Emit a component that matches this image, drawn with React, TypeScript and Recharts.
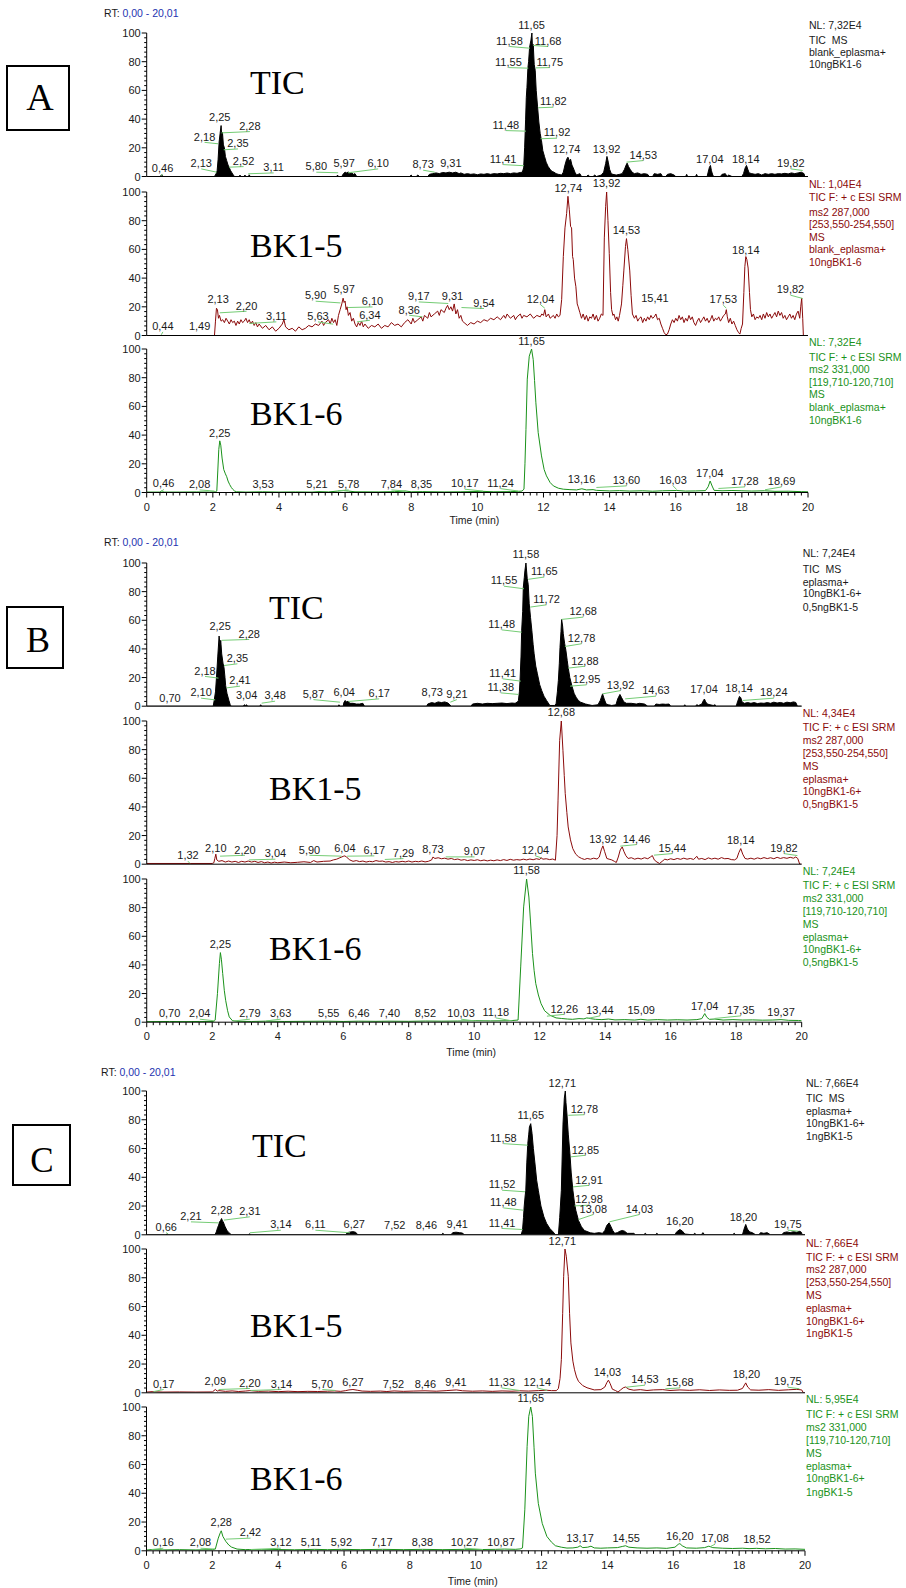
import { Area, ComposedChart, Line, ReferenceDot, ReferenceLine, XAxis, YAxis } from "recharts";

type Pt = [number, number];
// [text, labelX, labelBaselineY, peakX?, peakY?]
type Lbl = [string, number, number, number?, number?];

// ---------- A: blank_eplasma + 10ngBK1-6 ----------
const ticA: Pt[] = [
  [0, 0], [0.4, 0], [0.45, 1], [0.5, 0], [2.05, 0], [2.1, 2], [2.13, 4], [2.16, 12], [2.19, 24], [2.22, 30],
  [2.25, 35.5], [2.27, 28], [2.29, 31], [2.32, 22], [2.35, 20], [2.38, 14], [2.42, 11], [2.46, 8], [2.5, 6],
  [2.54, 4], [2.58, 2.5], [2.62, 1], [2.66, 0], [2.8, 0], [2.82, 1], [2.85, 0], [2.95, 0], [2.97, 1], [3.0, 0],
  [3.08, 0], [3.1, 1.2], [3.13, 0], [5.75, 0], [5.77, 1], [5.8, 0], [5.9, 0], [5.95, 2], [6.0, 3], [6.05, 2.5],
  [6.1, 3.2], [6.15, 2], [6.2, 2.5], [6.25, 1.5], [6.3, 2], [6.35, 0], [7.95, 0], [8.0, 1], [8.03, 0], [8.15, 0],
  [8.2, 1], [8.25, 0], [8.5, 0], [8.55, 1.5], [8.65, 2], [8.75, 2.5], [8.85, 2], [8.95, 2.8], [9.05, 2.5],
  [9.15, 3], [9.25, 2.5], [9.35, 3], [9.45, 2], [9.5, 2.5], [9.6, 1.5], [9.7, 2], [9.8, 1.5], [9.9, 1.8],
  [10.0, 1.2], [10.1, 1.8], [10.2, 1.5], [10.3, 2], [10.4, 1.5], [10.5, 2], [10.6, 1.8], [10.7, 2.2], [10.8, 2],
  [10.9, 2.4], [11.0, 2], [11.1, 2.5], [11.2, 2.2], [11.3, 2.8], [11.36, 3], [11.4, 6], [11.43, 20], [11.46, 40],
  [11.48, 55], [11.5, 62], [11.53, 76], [11.55, 80], [11.58, 90], [11.62, 95], [11.65, 100], [11.67, 88],
  [11.69, 92], [11.72, 78], [11.75, 74], [11.78, 60], [11.82, 49], [11.86, 38], [11.9, 30], [11.94, 25],
  [11.98, 18], [12.03, 14], [12.08, 10], [12.14, 7], [12.2, 5], [12.26, 3.5], [12.32, 3], [12.38, 2], [12.45, 1.5],
  [12.55, 1], [12.6, 3], [12.65, 8], [12.7, 12], [12.74, 13.5], [12.78, 11], [12.82, 12], [12.86, 8], [12.9, 6],
  [12.95, 3], [13.0, 1], [13.1, 2], [13.15, 0], [13.3, 0], [13.35, 1], [13.4, 0], [13.5, 0], [13.55, 1], [13.6, 0],
  [13.75, 1], [13.82, 3], [13.88, 9], [13.92, 14], [13.96, 10], [14.0, 5], [14.05, 2], [14.1, 1.5], [14.2, 1],
  [14.3, 1.5], [14.38, 2], [14.45, 5], [14.5, 8], [14.53, 9.3], [14.57, 7], [14.62, 5], [14.68, 3], [14.75, 2],
  [14.85, 2.5], [14.95, 1.5], [15.05, 2], [15.15, 1.5], [15.2, 0], [15.3, 0], [15.35, 2], [15.45, 1.5], [15.55, 2],
  [15.6, 0], [15.7, 0], [15.75, 1.5], [15.85, 2], [15.95, 1], [16.0, 0], [16.3, 0], [16.33, 1.5], [16.36, 0],
  [16.6, 0], [16.63, 1.5], [16.66, 0], [16.95, 0], [16.98, 3], [17.02, 6.5], [17.05, 7.7], [17.08, 4], [17.12, 1],
  [17.15, 0], [17.35, 0], [17.4, 1.5], [17.5, 2], [17.55, 0], [17.6, 1], [17.7, 0], [18.0, 0], [18.05, 2],
  [18.1, 6], [18.14, 7.7], [18.18, 5], [18.22, 2.5], [18.3, 2], [18.4, 1.5], [18.5, 2], [18.6, 1], [18.7, 2],
  [18.8, 1.5], [18.9, 2], [19.0, 1.5], [19.1, 2], [19.2, 1.8], [19.3, 2.2], [19.4, 1.8], [19.5, 2.5], [19.6, 2],
  [19.7, 2.5], [19.8, 3], [19.88, 2], [19.9, 0], [20, 0],
];

const bk5A: Pt[] = [
  [0, 0], [2.05, 0], [2.08, 10], [2.11, 19], [2.14, 18], [2.17, 12], [2.2, 14], [2.25, 10], [2.3, 11], [2.35, 9],
  [2.4, 12], [2.45, 10], [2.5, 8], [2.55, 11], [2.6, 9], [2.65, 10], [2.7, 7], [2.75, 10], [2.8, 8], [2.85, 11],
  [2.9, 9], [2.95, 10], [3.0, 12], [3.05, 9], [3.1, 11], [3.15, 8], [3.2, 10], [3.25, 7], [3.3, 9], [3.35, 6],
  [3.4, 8], [3.5, 5], [3.6, 7], [3.7, 4], [3.8, 6], [3.9, 3], [4.0, 5], [4.1, 8], [4.15, 11], [4.2, 6], [4.3, 4],
  [4.4, 5], [4.5, 3], [4.6, 6], [4.7, 4], [4.8, 5], [4.9, 7], [5.0, 6], [5.1, 8], [5.2, 7], [5.3, 10], [5.35, 7],
  [5.4, 9], [5.5, 11], [5.55, 8], [5.6, 12], [5.65, 9], [5.7, 11], [5.75, 7], [5.8, 14], [5.85, 18], [5.9, 22],
  [5.94, 26], [5.97, 23], [6.0, 24], [6.03, 18], [6.06, 20], [6.1, 14], [6.15, 16], [6.2, 10], [6.25, 12],
  [6.3, 8], [6.35, 6], [6.4, 9], [6.45, 7], [6.5, 10], [6.55, 6], [6.6, 8], [6.7, 5], [6.8, 7], [6.9, 6], [7.0, 8],
  [7.1, 5], [7.2, 7], [7.3, 6], [7.4, 9], [7.5, 7], [7.6, 8], [7.7, 6], [7.8, 9], [7.9, 11], [8.0, 8], [8.05, 12],
  [8.1, 9], [8.2, 11], [8.3, 13], [8.35, 10], [8.4, 14], [8.5, 12], [8.55, 16], [8.6, 13], [8.7, 15], [8.8, 17],
  [8.85, 14], [8.9, 18], [9.0, 16], [9.05, 19], [9.1, 21], [9.15, 18], [9.2, 20], [9.25, 17], [9.3, 22],
  [9.35, 15], [9.4, 18], [9.45, 12], [9.5, 14], [9.55, 10], [9.6, 9], [9.7, 7], [9.8, 9], [9.9, 8], [10.0, 10],
  [10.1, 9], [10.2, 11], [10.3, 10], [10.4, 12], [10.5, 11], [10.6, 13], [10.7, 11], [10.8, 14], [10.85, 12],
  [10.9, 15], [11.0, 12], [11.1, 14], [11.15, 11], [11.2, 13], [11.3, 15], [11.35, 12], [11.4, 14], [11.5, 13],
  [11.6, 15], [11.7, 12], [11.8, 14], [11.9, 13], [11.95, 15], [12.0, 14], [12.04, 18], [12.08, 13], [12.15, 15],
  [12.2, 12], [12.3, 14], [12.35, 12], [12.4, 15], [12.45, 13], [12.5, 14], [12.55, 25], [12.6, 55], [12.65, 75],
  [12.7, 85], [12.74, 97], [12.78, 88], [12.82, 76], [12.85, 75], [12.88, 55], [12.9, 53], [12.94, 40],
  [12.98, 34], [13.02, 22], [13.05, 20], [13.1, 16], [13.15, 12], [13.2, 15], [13.25, 11], [13.3, 14], [13.35, 10],
  [13.4, 13], [13.45, 12], [13.5, 15], [13.55, 11], [13.6, 14], [13.65, 10], [13.7, 12], [13.75, 15], [13.8, 14],
  [13.84, 68], [13.88, 90], [13.91, 100], [13.95, 80], [13.99, 57], [14.03, 30], [14.06, 18], [14.1, 14],
  [14.13, 15], [14.18, 11], [14.22, 13], [14.26, 10], [14.3, 14], [14.36, 22], [14.4, 35], [14.43, 45],
  [14.48, 62], [14.51, 67.5], [14.55, 60], [14.61, 45], [14.65, 28], [14.69, 15], [14.75, 12], [14.8, 14],
  [14.85, 10], [14.9, 12], [14.95, 13], [15.0, 9], [15.05, 12], [15.1, 10], [15.15, 13], [15.2, 11], [15.25, 14],
  [15.3, 12], [15.35, 13], [15.4, 15], [15.45, 11], [15.5, 12], [15.55, 8], [15.6, 5], [15.65, 2], [15.7, 0.5],
  [15.75, 1], [15.8, 4], [15.85, 8], [15.9, 11], [15.95, 9], [16.0, 12], [16.05, 10], [16.1, 14], [16.15, 11],
  [16.2, 13], [16.25, 9], [16.3, 12], [16.35, 10], [16.4, 14], [16.45, 11], [16.5, 13], [16.55, 9], [16.6, 7],
  [16.65, 10], [16.7, 12], [16.75, 9], [16.8, 11], [16.85, 13], [16.9, 10], [16.95, 12], [17.0, 9], [17.05, 11],
  [17.1, 14], [17.15, 10], [17.2, 12], [17.25, 11], [17.3, 13], [17.35, 10], [17.4, 12], [17.45, 14], [17.5, 15],
  [17.53, 18], [17.56, 13], [17.6, 9], [17.65, 12], [17.7, 8], [17.75, 10], [17.8, 7], [17.85, 4], [17.9, 2],
  [17.94, 1], [17.98, 5], [18.02, 8], [18.06, 30], [18.09, 48], [18.12, 55], [18.15, 53], [18.19, 47], [18.23, 30],
  [18.26, 18], [18.3, 13], [18.35, 15], [18.4, 11], [18.45, 13], [18.5, 12], [18.55, 14], [18.6, 11], [18.65, 15],
  [18.7, 12], [18.75, 16], [18.8, 13], [18.85, 15], [18.9, 12], [18.95, 14], [19.0, 16], [19.05, 13], [19.1, 17],
  [19.15, 14], [19.2, 16], [19.25, 12], [19.3, 14], [19.35, 11], [19.4, 13], [19.45, 15], [19.5, 12], [19.55, 14],
  [19.6, 11], [19.65, 15], [19.7, 17], [19.75, 12], [19.78, 20], [19.81, 26], [19.84, 12], [19.86, 0], [20, 0],
];

const bk6A: Pt[] = [
  [0, 0.3], [0.4, 0.3], [0.46, 1.2], [0.52, 0.3], [1.0, 0.3], [1.5, 0.4], [1.9, 0.3], [2.08, 0.5], [2.12, 1],
  [2.15, 15], [2.18, 30], [2.21, 36], [2.24, 33], [2.28, 24], [2.33, 16], [2.38, 13], [2.42, 11], [2.46, 8],
  [2.51, 5.5], [2.56, 3.5], [2.6, 2.3], [2.66, 1], [2.72, 0.5], [3.0, 0.3], [3.5, 0.5], [4.0, 0.3], [4.5, 0.4],
  [5.0, 0.3], [5.21, 0.6], [5.5, 0.4], [5.78, 1], [5.95, 1.3], [6.1, 1], [6.3, 0.5], [7.0, 0.4], [7.5, 0.6],
  [7.84, 1], [8.0, 0.5], [8.35, 0.6], [9.0, 0.4], [9.5, 0.5], [10.17, 0.8], [10.5, 0.5], [11.0, 0.6], [11.24, 0.8],
  [11.35, 1], [11.41, 2.3], [11.44, 20], [11.47, 44], [11.51, 79], [11.57, 95], [11.64, 100], [11.69, 92.6],
  [11.73, 78], [11.77, 62.5], [11.84, 41.7], [11.94, 25.5], [12.02, 16], [12.09, 11.6], [12.2, 7], [12.3, 4.6],
  [12.45, 3], [12.6, 2.3], [12.8, 2], [13.0, 1.8], [13.16, 2.6], [13.3, 1.8], [13.5, 2], [13.6, 1.5], [13.8, 1.3],
  [14.0, 1.1], [14.3, 1.3], [14.6, 1], [15.0, 1.2], [15.3, 0.9], [15.6, 1.2], [16.03, 1.4], [16.3, 1], [16.6, 1.1],
  [16.9, 1.3], [16.98, 4], [17.04, 8], [17.1, 4.5], [17.16, 1.5], [17.4, 1.2], [17.7, 1.4], [18.0, 1.2], [18.3, 1],
  [18.69, 1.2], [19.0, 0.8], [19.4, 0.9], [19.8, 0.6], [20, 0.5],
];

// ---------- B: eplasma + 10ngBK1-6 + 0,5ngBK1-5 ----------
const ticB: Pt[] = [
  [0, 0], [2.03, 0], [2.06, 4], [2.1, 10], [2.13, 20], [2.17, 35], [2.21, 49], [2.24, 42], [2.26, 46],
  [2.29, 36.5], [2.33, 30], [2.36, 27], [2.39, 20], [2.41, 14.4], [2.45, 9], [2.51, 4], [2.55, 1], [2.58, 0],
  [2.95, 0], [2.98, 1], [3.02, 0.5], [3.05, 1], [3.08, 0], [3.45, 0], [3.48, 1], [3.51, 0], [5.85, 0], [5.87, 1],
  [5.9, 0], [6.0, 0], [6.02, 2.5], [6.06, 4], [6.1, 3], [6.15, 3.5], [6.2, 2], [6.3, 2], [6.4, 1.5], [6.5, 1.5],
  [6.6, 2], [6.65, 0], [8.55, 0], [8.58, 1.5], [8.7, 2.5], [8.8, 2], [8.9, 3], [9.0, 2.5], [9.1, 3], [9.2, 2.2],
  [9.3, 0], [9.9, 0], [9.95, 1.5], [10.1, 2], [10.25, 1.5], [10.4, 2], [10.55, 1.8], [10.7, 2], [10.85, 2.2],
  [11.0, 1.8], [11.15, 2.2], [11.25, 2], [11.32, 3], [11.35, 4], [11.38, 10], [11.4, 18], [11.43, 35], [11.45, 53],
  [11.48, 66], [11.5, 83], [11.53, 90], [11.55, 95], [11.58, 100], [11.62, 89], [11.65, 85], [11.68, 71.6],
  [11.72, 62], [11.76, 53], [11.8, 43], [11.83, 36.6], [11.88, 28], [11.93, 22.6], [12.0, 15], [12.06, 11],
  [12.13, 7], [12.21, 4], [12.31, 0.5], [12.45, 0.5], [12.5, 1.6], [12.54, 10], [12.57, 18], [12.6, 30],
  [12.62, 41], [12.65, 52], [12.67, 60.6], [12.7, 56], [12.72, 50.6], [12.76, 44], [12.8, 39], [12.84, 32],
  [12.87, 27], [12.92, 20], [12.98, 14.5], [13.05, 9], [13.11, 6.3], [13.18, 4], [13.25, 2.8], [13.4, 1.5],
  [13.5, 1], [13.6, 0.5], [13.78, 1], [13.85, 4], [13.92, 8.6], [13.97, 5], [14.03, 1.5], [14.1, 1], [14.2, 0.5],
  [14.33, 1], [14.38, 5], [14.45, 8.2], [14.5, 6], [14.57, 3], [14.65, 2], [14.8, 2], [14.95, 1.5], [15.05, 2],
  [15.2, 1.5], [15.3, 0], [15.5, 0], [15.55, 1.5], [15.65, 1.2], [15.75, 1.5], [15.85, 1.3], [15.95, 1.5], [16.0, 0],
  [16.4, 0], [16.43, 1], [16.46, 0], [16.75, 0], [16.8, 1], [16.85, 0.5], [16.95, 1.5], [17.0, 4], [17.03, 5],
  [17.07, 3], [17.12, 1.5], [17.2, 1], [17.3, 0.5], [17.35, 1], [17.4, 0], [18.0, 0], [18.04, 3], [18.1, 6.8],
  [18.14, 6], [18.18, 3], [18.25, 2], [18.35, 2.5], [18.45, 2], [18.55, 2.5], [18.65, 1.8], [18.75, 2.2],
  [18.85, 2], [18.95, 2.5], [19.05, 2], [19.15, 2.8], [19.25, 2.2], [19.35, 2.6], [19.45, 2], [19.55, 2.8],
  [19.65, 2.4], [19.75, 3], [19.82, 2.6], [19.87, 0], [20, 0],
];

const bk5B: Pt[] = [
  [0, 0.5], [2.0, 0.5], [2.05, 1], [2.08, 4], [2.11, 7], [2.14, 3], [2.2, 2], [2.3, 2.5], [2.4, 1.5], [2.5, 2.2],
  [2.6, 1.5], [2.7, 2], [2.8, 1.2], [2.9, 2], [3.0, 1.5], [3.1, 2.2], [3.2, 1.5], [3.3, 2], [3.4, 1.2], [3.5, 1.8],
  [3.6, 1], [3.7, 1.5], [3.8, 0.8], [3.9, 1.4], [4.0, 1], [4.2, 1.5], [4.4, 1], [4.6, 1.3], [4.8, 1.7], [5.0, 1.2],
  [5.1, 2.5], [5.2, 1.5], [5.4, 2], [5.6, 2.2], [5.7, 3], [5.8, 3.5], [5.9, 4.5], [6.0, 5.5], [6.05, 5.8], [6.1, 5],
  [6.15, 4], [6.2, 3], [6.3, 2], [6.4, 2.5], [6.5, 1.8], [6.6, 2.2], [6.7, 1.5], [6.8, 2], [6.9, 1.7], [7.0, 2.5],
  [7.1, 2], [7.2, 2.2], [7.3, 1.5], [7.4, 1.8], [7.5, 1.2], [7.6, 1.8], [7.7, 1.5], [7.8, 2], [7.9, 1.6], [8.0, 2.2],
  [8.1, 1.5], [8.2, 2], [8.3, 1.7], [8.4, 2.2], [8.5, 1.6], [8.6, 2], [8.7, 3], [8.74, 5], [8.8, 4], [8.9, 4.5],
  [9.0, 3.8], [9.1, 4.2], [9.2, 3.5], [9.3, 4], [9.4, 3.2], [9.5, 3.6], [9.6, 2.8], [9.7, 3.2], [9.8, 2.5], [9.9, 3],
  [10.0, 2.6], [10.1, 3.1], [10.2, 2.4], [10.3, 2.9], [10.4, 2.3], [10.5, 2.8], [10.6, 2.4], [10.7, 3], [10.8, 2.5],
  [10.9, 3.2], [11.0, 2.6], [11.1, 3.4], [11.2, 2.8], [11.3, 3.2], [11.4, 2.9], [11.5, 3.5], [11.6, 3], [11.7, 3.6],
  [11.8, 3.1], [11.9, 3.8], [12.0, 3.3], [12.04, 4.5], [12.1, 3.5], [12.2, 3.8], [12.3, 3.2], [12.4, 3.6],
  [12.48, 2.8], [12.53, 20], [12.56, 44.7], [12.61, 86.5], [12.66, 100], [12.71, 79.5], [12.75, 62], [12.78, 49.3],
  [12.83, 36], [12.87, 26], [12.94, 17], [13.01, 10.9], [13.1, 7], [13.19, 5.1], [13.28, 4], [13.37, 3.3],
  [13.45, 4], [13.55, 3.5], [13.65, 4.2], [13.75, 3.6], [13.82, 5], [13.88, 10], [13.93, 12.8], [13.98, 9],
  [14.05, 4], [14.12, 3.5], [14.2, 3], [14.28, 2], [14.34, 1.2], [14.4, 5], [14.46, 10], [14.52, 12.1], [14.57, 9],
  [14.63, 6], [14.7, 4], [14.8, 4.5], [14.9, 3.5], [15.0, 4.2], [15.1, 3.6], [15.2, 4.5], [15.3, 3.8], [15.38, 5],
  [15.44, 6], [15.5, 3], [15.58, 1.5], [15.66, 0.5], [15.74, 2], [15.82, 3.5], [15.9, 3], [16.0, 3.8], [16.1, 3.2],
  [16.2, 4], [16.3, 3.4], [16.4, 4.2], [16.5, 3.5], [16.6, 4], [16.7, 3.3], [16.8, 5.5], [16.85, 3.5], [16.95, 4],
  [17.05, 3.2], [17.15, 4.4], [17.25, 3.6], [17.35, 4.2], [17.45, 3.5], [17.55, 4.6], [17.65, 3.8], [17.75, 4],
  [17.85, 3.2], [17.95, 3], [18.02, 4], [18.08, 8], [18.14, 10.9], [18.2, 7], [18.27, 4], [18.35, 3.6], [18.45, 4.2],
  [18.55, 3.5], [18.65, 4.4], [18.75, 3.8], [18.85, 4.6], [18.95, 3.9], [19.05, 4.5], [19.15, 3.8], [19.25, 4.8],
  [19.35, 4], [19.45, 4.6], [19.55, 4.1], [19.65, 4.8], [19.75, 4.2], [19.82, 5], [19.88, 4], [19.94, 0], [20, 0],
];

const bk6B: Pt[] = [
  [0, 0.4], [0.7, 0.5], [1.2, 0.4], [1.6, 0.5], [2.04, 0.5], [2.09, 1.5], [2.16, 20], [2.22, 41], [2.25, 48.6],
  [2.28, 44], [2.32, 34], [2.37, 22], [2.41, 15.3], [2.47, 8], [2.52, 3.7], [2.62, 1], [2.79, 0.6], [3.2, 0.5],
  [3.63, 0.7], [4.2, 0.5], [4.8, 0.6], [5.55, 0.7], [6.0, 0.5], [6.46, 0.7], [7.0, 0.6], [7.4, 0.7], [8.0, 0.6],
  [8.52, 0.8], [9.0, 0.7], [9.5, 0.8], [10.03, 1], [10.5, 0.9], [11.0, 1], [11.18, 1.2], [11.34, 1.5], [11.42, 38.6],
  [11.51, 80.5], [11.6, 100], [11.67, 87.4], [11.72, 70], [11.78, 48], [11.83, 36], [11.88, 27], [11.96, 19],
  [12.04, 13], [12.15, 8], [12.31, 4.9], [12.5, 3], [12.66, 2.6], [12.85, 2.2], [13.0, 2], [13.2, 2.5],
  [13.35, 2.3], [13.44, 3], [13.55, 2.5], [13.7, 2], [13.9, 1.8], [14.1, 2.2], [14.3, 1.6], [14.6, 1.8], [14.9, 1.5],
  [15.09, 2], [15.3, 1.5], [15.6, 1.8], [15.9, 1.5], [16.2, 1.7], [16.5, 1.5], [16.8, 1.8], [16.95, 2.5], [17.04, 6],
  [17.1, 3.5], [17.18, 2], [17.35, 2.2], [17.6, 1.5], [17.9, 1.8], [18.2, 1.5], [18.5, 1.6], [18.8, 1.4],
  [19.1, 1.5], [19.37, 1.8], [19.6, 1.3], [19.9, 1.2], [20, 1],
];

// ---------- C: eplasma + 10ngBK1-6 + 1ngBK1-5 ----------
const ticC: Pt[] = [
  [0, 0], [0.6, 0], [0.63, 0.8], [0.66, 0], [2.08, 0], [2.12, 2], [2.16, 5], [2.19, 6.7], [2.22, 9], [2.25, 10],
  [2.28, 11.3], [2.31, 9.5], [2.33, 9], [2.38, 6], [2.44, 3.2], [2.5, 1.5], [2.58, 0], [3.1, 0], [3.13, 0.8],
  [3.16, 0], [6.05, 0], [6.1, 1.5], [6.2, 2], [6.27, 2.2], [6.35, 1.8], [6.42, 0], [8.95, 0], [9.0, 1], [9.05, 0],
  [9.25, 0], [9.3, 1.5], [9.4, 1.8], [9.5, 1.5], [9.6, 1.2], [9.65, 0], [11.38, 0], [11.42, 3.2], [11.45, 12],
  [11.47, 19.4], [11.5, 27], [11.52, 31], [11.55, 50], [11.58, 63.4], [11.61, 70], [11.63, 75], [11.67, 77.3],
  [11.71, 70.4], [11.75, 60], [11.81, 47.2], [11.85, 38], [11.9, 31], [11.98, 20], [12.07, 12.5], [12.15, 8],
  [12.25, 4.4], [12.35, 2], [12.42, 0], [12.51, 0], [12.55, 12], [12.6, 31], [12.65, 77], [12.69, 95],
  [12.72, 100], [12.74, 92], [12.77, 84], [12.81, 70], [12.86, 56.5], [12.9, 43], [12.95, 31], [13.0, 22],
  [13.04, 17], [13.12, 10], [13.21, 5.6], [13.3, 3], [13.48, 1.4], [13.6, 1], [13.75, 1.5], [13.85, 1], [13.92, 3],
  [13.98, 6.5], [14.05, 8.3], [14.1, 6], [14.16, 3], [14.22, 1], [14.3, 1.5], [14.38, 2.5], [14.45, 3], [14.52, 2.5],
  [14.6, 1], [14.8, 1], [14.85, 0], [15.1, 0], [15.15, 1], [15.2, 0], [15.45, 0], [15.5, 1], [15.55, 0], [16.05, 0],
  [16.1, 2], [16.2, 3.7], [16.28, 2.5], [16.35, 0.5], [16.6, 0], [16.65, 1], [16.7, 0], [16.85, 0], [16.9, 1.5],
  [16.95, 0], [17.8, 0], [17.85, 1], [17.9, 0], [18.1, 0], [18.15, 4], [18.2, 7.2], [18.25, 4], [18.32, 2],
  [18.4, 1.5], [18.5, 0], [18.6, 0], [18.65, 1.5], [18.75, 1], [18.85, 1.5], [18.95, 0], [19.3, 0], [19.35, 1.5],
  [19.45, 2], [19.55, 1.5], [19.65, 2.2], [19.75, 1.8], [19.82, 2.5], [19.88, 2], [19.92, 0], [20, 0],
];

const bk5C: Pt[] = [
  [0, 0.5], [0.17, 0.8], [0.5, 0.5], [1.0, 0.6], [1.5, 0.5], [2.0, 0.6], [2.09, 2.3], [2.15, 1.2], [2.2, 1.5],
  [2.4, 1], [2.6, 1.3], [2.8, 0.9], [3.0, 1.2], [3.14, 1.5], [3.4, 1], [3.7, 1.2], [4.0, 0.8], [4.3, 1.1],
  [4.6, 0.8], [4.9, 1], [5.2, 0.9], [5.5, 1.1], [5.7, 1.3], [5.9, 1], [6.05, 1.5], [6.15, 2], [6.27, 2.3],
  [6.4, 1.8], [6.55, 1.2], [6.8, 1], [7.1, 1.2], [7.3, 0.9], [7.52, 1.3], [7.8, 1], [8.1, 1.2], [8.46, 1.4],
  [8.8, 1.1], [9.1, 1.5], [9.41, 2], [9.6, 1.4], [9.9, 1.1], [10.2, 1.3], [10.5, 1], [10.8, 1.3], [11.1, 1.1],
  [11.33, 1.4], [11.6, 1.2], [11.9, 1.5], [12.14, 1.8], [12.3, 1.5], [12.45, 1.5], [12.51, 3], [12.56, 10],
  [12.6, 23], [12.64, 55], [12.67, 81], [12.71, 100], [12.75, 95], [12.81, 81], [12.85, 55], [12.89, 34.7],
  [12.95, 22], [13.0, 16], [13.06, 11], [13.12, 8], [13.25, 5], [13.38, 3.5], [13.6, 2], [13.8, 2.2], [13.92, 4],
  [13.98, 7], [14.03, 8.8], [14.08, 6.5], [14.15, 2.5], [14.25, 1.5], [14.32, 0.5], [14.4, 2], [14.48, 3.5],
  [14.55, 4], [14.65, 2.5], [14.8, 1.8], [15.0, 2.2], [15.2, 1.6], [15.4, 2], [15.68, 2.2], [15.9, 1.6], [16.2, 2],
  [16.5, 1.7], [16.8, 2.1], [17.1, 1.6], [17.4, 2], [17.7, 1.7], [17.95, 1.8], [18.1, 3], [18.2, 6.9], [18.26, 4],
  [18.35, 2], [18.6, 1.8], [18.9, 2.2], [19.2, 1.7], [19.5, 2.1], [19.75, 2.4], [19.9, 2], [19.95, 0], [20, 0],
];

const bk6C: Pt[] = [
  [0, 0.5], [0.16, 0.9], [0.5, 0.6], [1.0, 0.8], [1.5, 0.6], [2.0, 0.8], [2.09, 1.2], [2.18, 8.8], [2.24, 12.5],
  [2.27, 13.9], [2.32, 10], [2.41, 6.5], [2.5, 4], [2.58, 2.6], [2.75, 1.2], [3.0, 0.8], [3.12, 0.9], [3.5, 0.7],
  [4.0, 0.9], [4.5, 0.7], [5.11, 1], [5.5, 0.8], [5.92, 1], [6.5, 0.8], [7.17, 1], [7.8, 0.8], [8.38, 1], [9.0, 0.8],
  [9.66, 1], [10.22, 0.9], [10.6, 1], [10.87, 1.2], [11.2, 1], [11.35, 1.3], [11.42, 2], [11.49, 28.5],
  [11.56, 72.6], [11.61, 93.5], [11.67, 100], [11.72, 93.5], [11.77, 72], [11.81, 54], [11.9, 33], [12.02, 19],
  [12.16, 10], [12.3, 6], [12.42, 3.5], [12.6, 2.5], [12.77, 1.9], [12.95, 2], [13.1, 2.5], [13.17, 3.5],
  [13.25, 2.2], [13.4, 2.5], [13.5, 3.2], [13.6, 2], [13.8, 1.8], [14.0, 2], [14.3, 2.2], [14.45, 3], [14.55, 3.5],
  [14.65, 2.5], [14.9, 2], [15.2, 1.8], [15.5, 2], [15.8, 1.7], [16.05, 2.5], [16.15, 4.5], [16.2, 5], [16.27, 3.5],
  [16.4, 2], [16.7, 1.8], [16.95, 2.2], [17.08, 3.2], [17.2, 2.2], [17.5, 1.8], [17.8, 1.6], [18.1, 1.8],
  [18.3, 1.5], [18.52, 1.7], [18.8, 1.4], [19.1, 1.6], [19.4, 1.2], [19.7, 1.3], [20, 1],
];

// ---------- peak labels ----------
const lblTicA: Lbl[] = [
  ["0,46", 0.48, 3, 0.44, 0.5], ["2,13", 1.65, 6.5, 2.12, 3], ["2,18", 1.75, 25, 2.16, 22.8], ["2,25", 2.21, 38.5],
  ["2,28", 3.12, 32.5, 2.26, 30.4], ["2,35", 2.76, 20.4, 2.33, 18.6], ["2,52", 2.93, 8.1, 2.49, 6.5],
  ["3,11", 3.84, 3.7, 3.07, 1.9], ["5,80", 5.13, 4.2, 5.79, 2.6], ["5,97", 5.97, 6.5], ["6,10", 7.0, 6.5, 6.09, 2.6],
  ["8,73", 8.36, 5.6, 8.71, 3], ["9,31", 9.2, 6.5], ["11,41", 10.78, 9.5, 11.41, 7.5],
  ["11,48", 10.86, 33.2, 11.47, 31.6], ["11,55", 10.94, 77.1, 11.54, 75.5], ["11,58", 10.97, 91.8, 11.59, 89.4],
  ["11,65", 11.64, 103], ["11,68", 12.14, 91.8, 11.69, 91.3], ["11,75", 12.19, 77.1, 11.77, 75.7],
  ["11,82", 12.3, 49.5, 11.84, 47.9], ["11,92", 12.41, 27.9, 11.91, 26.3], ["12,74", 12.7, 16.5],
  ["13,92", 13.91, 16.5], ["14,53", 15.02, 12.3, 14.51, 10], ["17,04", 17.03, 9.5], ["18,14", 18.12, 9.5],
  ["19,82", 19.48, 6.5, 19.84, 4.2],
];
const lblBk5A: Lbl[] = [
  ["0,44", 0.49, 3.7, 0.44, 0.5], ["1,49", 1.6, 3.7], ["2,13", 2.16, 22.3], ["2,20", 3.02, 18.1, 2.21, 15.8],
  ["3,11", 3.92, 10.7, 3.1, 8.4], ["5,63", 5.18, 10.7, 5.64, 7.9], ["5,90", 5.11, 25.1, 5.86, 22.7],
  ["5,97", 5.97, 29.3], ["6,10", 6.83, 21.1, 6.09, 19.5], ["6,34", 6.75, 11.8, 6.36, 9.5],
  ["8,36", 7.94, 15.3, 8.34, 13], ["9,17", 8.23, 24.6, 9.12, 22.3], ["9,31", 9.25, 24.6],
  ["9,54", 10.2, 20, 9.52, 19.5], ["12,04", 11.91, 22.7, 12.04, 19], ["12,74", 12.75, 100], ["13,92", 13.91, 103.5],
  ["14,53", 14.51, 71], ["15,41", 15.37, 23.4], ["17,53", 17.44, 22.3, 17.53, 19], ["18,14", 18.12, 57],
  ["19,82", 19.47, 29.3, 19.84, 25.8],
];
const lblBk6A: Lbl[] = [
  ["0,46", 0.51, 3.5, 0.46, 0.5], ["2,08", 1.6, 3, 2.05, 1], ["2,25", 2.21, 38.9], ["3,53", 3.52, 3],
  ["5,21", 5.15, 3], ["5,78", 6.11, 3, 5.79, 1.2], ["7,84", 7.4, 3, 7.84, 1], ["8,35", 8.31, 3],
  ["10,17", 9.62, 3.5, 10.17, 1], ["11,24", 10.7, 3.9, 11.24, 1], ["11,65", 11.64, 103], ["13,16", 13.15, 6.5],
  ["13,60", 14.51, 5.8, 13.6, 3.5], ["16,03", 15.92, 5.8, 16.03, 2], ["17,04", 17.03, 11],
  ["17,28", 18.09, 5.1, 17.29, 2.8], ["18,69", 19.2, 5.1, 18.7, 1.9],
];
const lblTicB: Lbl[] = [
  ["0,70", 0.71, 2.8], ["2,10", 1.66, 6.8, 2.09, 4.4], ["2,18", 1.78, 22, 2.19, 19.6], ["2,25", 2.24, 53],
  ["2,28", 3.13, 47.8, 2.29, 46], ["2,35", 2.77, 30.8, 2.36, 28.4], ["2,41", 2.85, 15.2, 2.44, 12.8],
  ["3,04", 3.05, 5.1], ["3,48", 3.92, 4.7, 3.51, 2.1], ["5,87", 5.09, 5.8, 5.9, 2.8], ["6,04", 6.03, 6.8],
  ["6,17", 7.1, 6.3, 6.16, 3.3], ["8,73", 8.72, 6.8], ["9,21", 9.47, 5.8, 9.27, 2.8], ["11,58", 11.58, 103.7],
  ["11,55", 10.91, 85, 11.52, 82], ["11,65", 12.14, 91.4, 11.65, 88.6], ["11,72", 12.21, 72, 11.71, 69.2],
  ["11,48", 10.84, 54.5, 11.45, 51.7], ["12,68", 13.33, 63.4, 12.67, 60.6], ["12,78", 13.28, 44.8, 12.77, 41.7],
  ["12,88", 13.38, 29.1, 12.87, 26.6], ["12,95", 13.43, 16.1, 12.93, 14], ["11,41", 10.87, 20.3, 11.42, 17.5],
  ["11,38", 10.81, 10.5, 11.35, 8.2], ["13,92", 14.47, 12.1, 13.92, 8.6], ["14,63", 15.55, 8.2, 14.61, 5.1],
  ["17,04", 17.02, 9.1], ["18,14", 18.09, 9.8], ["18,24", 19.15, 6.8, 18.2, 4],
];
const lblBk5B: Lbl[] = [
  ["1,32", 1.26, 3.3, 1.32, 0.5], ["2,10", 2.11, 8.6], ["2,20", 3.0, 7.4, 2.24, 5.6], ["3,04", 3.93, 4.7, 3.12, 3],
  ["5,90", 4.97, 7.4, 5.95, 5.6], ["6,04", 6.05, 8.6], ["6,17", 6.95, 7, 6.12, 5.6], ["7,29", 7.84, 5.1, 7.27, 3.3],
  ["8,73", 8.74, 7.9], ["9,07", 10.01, 6.3, 9.13, 5.1], ["12,04", 11.87, 7, 12.04, 4.5], ["12,68", 12.66, 103.3],
  ["13,92", 13.93, 14.9], ["14,46", 14.96, 14.9, 14.46, 12.6], ["15,44", 16.05, 8.6, 15.49, 6.3],
  ["18,14", 18.14, 14], ["19,82", 19.46, 8.6, 19.87, 6],
];
const lblBk6B: Lbl[] = [
  ["0,70", 0.7, 3.3], ["2,04", 1.62, 3.3, 2.09, 0.9], ["2,25", 2.25, 51.9], ["2,79", 3.15, 3.3, 2.68, 0.9],
  ["3,63", 4.09, 3.3, 3.65, 0.9], ["5,55", 5.56, 3.3], ["6,46", 6.48, 3.3], ["7,40", 7.41, 3.3], ["8,52", 8.51, 3.3],
  ["10,03", 9.6, 3.3, 10.01, 0.9], ["11,18", 10.66, 4.2, 11.16, 0.9], ["11,58", 11.6, 103.7],
  ["12,26", 12.75, 6.7, 12.22, 4.2], ["13,44", 13.84, 5.6, 13.46, 2.6], ["15,09", 15.1, 5.6], ["17,04", 17.04, 8.8],
  ["17,35", 18.14, 5.6, 17.34, 2.6], ["19,37", 19.37, 4.2],
];
const lblTicC: Lbl[] = [
  ["0,66", 0.6, 2.8, 0.66, 0.5], ["2,21", 1.35, 10.2, 2.19, 8.3], ["2,28", 2.28, 14.4], ["2,31", 3.14, 13.7, 2.35, 10.2],
  ["3,14", 4.08, 4.4, 3.14, 1.4], ["6,11", 5.13, 4.4, 6.18, 1.4], ["6,27", 6.31, 4.4], ["7,52", 7.54, 3.7],
  ["8,46", 8.5, 3.7], ["9,41", 9.44, 4.9], ["11,41", 10.8, 5.6, 11.42, 3.7], ["11,48", 10.84, 19.9, 11.45, 17.1],
  ["11,52", 10.8, 32.2, 11.5, 29.9], ["11,58", 10.84, 64.6, 11.58, 62.3], ["11,65", 11.67, 80.8],
  ["12,71", 12.63, 102.8], ["12,78", 13.3, 84.7, 12.81, 83.1], ["12,85", 13.33, 56.5, 12.89, 54.2],
  ["12,91", 13.44, 35.6, 12.95, 33.3], ["12,98", 13.44, 21.8, 13.0, 20.1], ["13,08", 13.57, 15.3, 13.12, 10.6],
  ["14,03", 14.97, 15.3, 14.06, 9], ["16,20", 16.2, 6.7], ["18,20", 18.13, 9.7], ["19,75", 19.48, 4.4, 19.8, 2.5],
];
const lblBk5C: Lbl[] = [
  ["0,17", 0.52, 3.5, 0.21, 0.8], ["2,09", 2.09, 5.1], ["2,20", 3.14, 4.2, 2.19, 2.3], ["3,14", 4.1, 3.5, 3.16, 1.6],
  ["5,70", 5.34, 3.5, 5.74, 1.6], ["6,27", 6.27, 4.6], ["7,52", 7.5, 3.5], ["8,46", 8.47, 3.5], ["9,41", 9.4, 4.6],
  ["11,33", 10.79, 4.6, 11.33, 1.6], ["12,14", 11.87, 4.6, 12.17, 1.6], ["12,71", 12.63, 103], ["14,03", 14.0, 11.6],
  ["14,53", 15.14, 6.5, 14.57, 3.9], ["15,68", 16.2, 4.6, 15.76, 2.8], ["18,20", 18.22, 10.4],
  ["19,75", 19.48, 5.1, 19.83, 2.8],
];
const lblBk6C: Lbl[] = [
  ["0,16", 0.51, 3, 0.16, 0.9], ["2,08", 1.64, 3, 2.09, 1.2], ["2,28", 2.27, 16.9], ["2,42", 3.16, 10, 2.41, 8.1],
  ["3,12", 4.08, 3, 3.16, 0.9], ["5,11", 5.0, 3], ["5,92", 5.92, 3], ["7,17", 7.15, 3], ["8,38", 8.38, 3],
  ["10,27", 9.66, 3, 10.22, 0.9], ["10,87", 10.77, 3], ["11,65", 11.67, 103.2], ["13,17", 13.17, 5.8],
  ["14,55", 14.57, 5.8], ["16,20", 16.2, 7.7], ["17,08", 17.27, 5.8, 17.13, 3], ["18,52", 18.54, 5.3],
];

// ---------- header texts at the right of each trace ----------
const infoTicA = ["NL: 7,32E4", "TIC  MS", "blank_eplasma+", "10ngBK1-6"];
const infoBk5A = ["NL: 1,04E4", "TIC F: + c ESI SRM", "ms2 287,000", "[253,550-254,550]", "MS", "blank_eplasma+", "10ngBK1-6"];
const infoBk6A = ["NL: 7,32E4", "TIC F: + c ESI SRM", "ms2 331,000", "[119,710-120,710]", "MS", "blank_eplasma+", "10ngBK1-6"];
const infoTicB = ["NL: 7,24E4", "TIC  MS", "eplasma+", "10ngBK1-6+", "0,5ngBK1-5"];
const infoBk5B = ["NL: 4,34E4", "TIC F: + c ESI SRM", "ms2 287,000", "[253,550-254,550]", "MS", "eplasma+", "10ngBK1-6+", "0,5ngBK1-5"];
const infoBk6B = ["NL: 7,24E4", "TIC F: + c ESI SRM", "ms2 331,000", "[119,710-120,710]", "MS", "eplasma+", "10ngBK1-6+", "0,5ngBK1-5"];
const infoTicC = ["NL: 7,66E4", "TIC  MS", "eplasma+", "10ngBK1-6+", "1ngBK1-5"];
const infoBk5C = ["NL: 7,66E4", "TIC F: + c ESI SRM", "ms2 287,000", "[253,550-254,550]", "MS", "eplasma+", "10ngBK1-6+", "1ngBK1-5"];
const infoBk6C = ["NL: 5,95E4", "TIC F: + c ESI SRM", "ms2 331,000", "[119,710-120,710]", "MS", "eplasma+", "10ngBK1-6+", "1ngBK1-5"];

const traceNames = ["TIC", "BK1-5", "BK1-6"];
const yMajor = [0, 20, 40, 60, 80, 100];
const xMajor = [0, 2, 4, 6, 8, 10, 12, 14, 16, 18, 20];

// minor ticks between the labelled ones
const yTicks: number[] = [];
for (let i = 0; i < yMajor.length - 1; i++) {
  for (let k = 0; k < 6; k++) yTicks.push(yMajor[i] + (k * (yMajor[i + 1] - yMajor[i])) / 6);
}
yTicks.push(100);
const xTicks: number[] = [];
for (let i = 0; i < xMajor.length - 1; i++) {
  for (let k = 0; k < 10; k++) xTicks.push(xMajor[i] + (k * (xMajor[i + 1] - xMajor[i])) / 10);
}
xTicks.push(20);

const W = 906;
const MT = 18;
const SANS = '"Liberation Sans", Arial, sans-serif';
const SERIF = '"Liberation Serif", "Times New Roman", serif';
const RED = "#8B0A0A";
const GREEN = "#1A921A";
const LEADER = "#74CC74";
const INK = "#1a1a1a";

const GROUPS = [
  {
    letter: "A", tops: [33.3, 191.7, 349.3], h: 143.5, x0: 146.7, x20: 808,
    data: [ticA, bk5A, bk6A], labels: [lblTicA, lblBk5A, lblBk6A], info: [infoTicA, infoBk5A, infoBk6A],
    infoY: [[25, 40, 52.3, 64.3], [184, 196.7, 211.7, 224, 236.7, 249.3, 261.7], [341.7, 356.7, 369.3, 381.7, 394, 407.3, 420]],
    rt: [104, 17], box: [7, 66, 62, 64], boxText: [40, 110, 38], timeY: 524,
    big: [[250, 94.3], [250, 257.3], [250, 425]],
  },
  {
    letter: "B", tops: [562.7, 720.7, 878.7], h: 143.2, x0: 146.7, x20: 801.7,
    data: [ticB, bk5B, bk6B], labels: [lblTicB, lblBk5B, lblBk6B], info: [infoTicB, infoBk5B, infoBk6B],
    infoY: [[553.3, 569, 581.7, 593.3, 607.3], [712.7, 727.3, 740.3, 753.3, 766, 778.7, 791.3, 804], [870.7, 885.3, 898.3, 911.3, 924, 936.7, 949.3, 962]],
    rt: [104, 545.7], box: [7, 607, 56, 61], boxText: [38, 652, 36], timeY: 1055.5,
    big: [[269, 619.3], [269, 800], [269, 960]],
  },
  {
    letter: "C", tops: [1090.7, 1249.3, 1407.3], h: 143.8, x0: 146.5, x20: 805,
    data: [ticC, bk5C, bk6C], labels: [lblTicC, lblBk5C, lblBk6C], info: [infoTicC, infoBk5C, infoBk6C],
    infoY: [[1083.3, 1098.3, 1110.7, 1123.3, 1136], [1242.7, 1256.7, 1269.3, 1282.3, 1295, 1307.7, 1320.7, 1333.3], [1399.3, 1414, 1426.7, 1440, 1453.3, 1466, 1478.3, 1491.7]],
    rt: [101, 1075.7], box: [13, 1125, 57, 60], boxText: [42, 1171.5, 35], timeY: 1584.5,
    big: [[252, 1157.3], [250, 1336.7], [250, 1490]],
  },
];

const isMajor = (v: number, list: number[]) => list.some((m) => Math.abs(m - v) < 1e-6);

function Panel(props: {
  top: number; h: number; x0: number; x20: number; data: Pt[]; labels: Lbl[]; color: string; filled: boolean; xAxis: boolean;
}) {
  const { top, h, x0, x20, data, labels, color, filled, xAxis } = props;
  const MB = xAxis ? 26 : 10;
  const H = MT + h + MB;
  const bottom = MT + h;
  const rows = data.map(([t, v]) => ({ t, v }));

  const yTick = (p: any) => {
    const v = p.payload.value as number;
    const major = isMajor(v, yMajor);
    return (
      <g>
        <line x1={x0 - (major ? 5 : 2.5)} x2={x0} y1={p.y} y2={p.y} stroke="#000" strokeWidth={1} />
        {major && (
          <text x={x0 - 6} y={p.y + 4} textAnchor="end" fontSize={11} fontFamily={SANS} fill={INK}>
            {Math.round(v)}
          </text>
        )}
      </g>
    );
  };
  const xTick = (p: any) => {
    const v = p.payload.value as number;
    const major = isMajor(v, xMajor);
    return (
      <g>
        <line x1={p.x} x2={p.x} y1={bottom} y2={bottom + (major ? 5 : 3)} stroke="#000" strokeWidth={1} />
        {major && (
          <text x={p.x} y={bottom + 18} textAnchor="middle" fontSize={11} fontFamily={SANS} fill={INK}>
            {Math.round(v)}
          </text>
        )}
      </g>
    );
  };

  return (
    <div style={{ position: "absolute", left: 0, top: top - MT, width: W, height: H }}>
      <ComposedChart width={W} height={H} data={rows} margin={{ top: MT, right: W - x20, bottom: 0, left: 0 }}>
        <XAxis
          dataKey="t"
          type="number"
          domain={[0, 20]}
          allowDataOverflow
          ticks={xAxis ? xTicks : [0, 20]}
          interval={0}
          height={MB}
          axisLine={{ stroke: "#000", strokeWidth: 1 }}
          tickLine={false}
          tick={xAxis ? xTick : false}
        />
        <YAxis
          type="number"
          domain={[0, 100]}
          allowDataOverflow
          ticks={yTicks}
          interval={0}
          width={x0}
          axisLine={{ stroke: "#000", strokeWidth: 1 }}
          tickLine={false}
          tick={yTick}
        />
        {filled ? (
          <Area
            type="linear"
            dataKey="v"
            stroke="#000"
            strokeWidth={1}
            fill="#000"
            fillOpacity={1}
            baseValue={0}
            dot={false}
            activeDot={false}
            isAnimationActive={false}
          />
        ) : (
          <Line type="linear" dataKey="v" stroke={color} strokeWidth={1} dot={false} activeDot={false} isAnimationActive={false} />
        )}
        {labels
          .filter((l) => l[3] !== undefined)
          .map((l, i) => (
            <ReferenceLine
              key={"ld" + i}
              segment={[{ x: l[1], y: l[2] - 1.2 }, { x: l[3] as number, y: l[4] as number }]}
              stroke={LEADER}
              strokeWidth={1}
              ifOverflow="visible"
            />
          ))}
        {labels.map((l, i) => (
          <ReferenceDot
            key={"lb" + i}
            x={l[1]}
            y={l[2]}
            r={0}
            ifOverflow="visible"
            shape={(p: any) => (
              <text x={p.cx} y={p.cy} textAnchor="middle" fontSize={11} fontFamily={SANS} fill={INK}>
                {l[0]}
              </text>
            )}
          />
        ))}
      </ComposedChart>
    </div>
  );
}

export default function App() {
  const infoColor = [INK, RED, GREEN];
  return (
    <div style={{ position: "relative", width: W, height: 1588, background: "#fff", overflow: "hidden" }}>
      <style>{"body{margin:0;background:#fff}"}</style>
      {GROUPS.map((g) =>
        g.tops.map((top, k) => (
          <Panel
            key={g.letter + k}
            top={top}
            h={g.h}
            x0={g.x0}
            x20={g.x20}
            data={g.data[k]}
            labels={g.labels[k]}
            color={k === 1 ? RED : GREEN}
            filled={k === 0}
            xAxis={k === 2}
          />
        ))
      )}
      <svg width={W} height={1588} style={{ position: "absolute", left: 0, top: 0, pointerEvents: "none" }}>
        {GROUPS.map((g) => (
          <g key={"t" + g.letter}>
            <text x={g.rt[0]} y={g.rt[1]} fontSize={10.5} fontFamily={SANS} fill={INK}>
              RT: <tspan fill="#2433B0">0,00 - 20,01</tspan>
            </text>
            <rect x={g.box[0]} y={g.box[1]} width={g.box[2]} height={g.box[3]} fill="none" stroke="#000" strokeWidth={2} />
            <text x={g.boxText[0]} y={g.boxText[1]} textAnchor="middle" fontSize={g.boxText[2]} fontFamily={SERIF} fill="#000">
              {g.letter}
            </text>
            {g.big.map((b, k) => (
              <text key={"b" + k} x={b[0]} y={b[1]} fontSize={34} fontFamily={SERIF} fill="#000">
                {traceNames[k]}
              </text>
            ))}
            {g.info.map((lines, k) =>
              lines.map((s, j) => (
                <text
                  key={"i" + k + "-" + j}
                  x={g.x20 + 1}
                  y={g.infoY[k][j] + 4}
                  fontSize={10.5}
                  fontFamily={SANS}
                  fill={infoColor[k]}
                  style={{ whiteSpace: "pre" }}
                >
                  {s}
                </text>
              ))
            )}
            <text x={(g.x0 + g.x20) / 2 - 3} y={g.timeY} textAnchor="middle" fontSize={10.5} fontFamily={SANS} fill={INK}>
              Time (min)
            </text>
          </g>
        ))}
      </svg>
    </div>
  );
}
